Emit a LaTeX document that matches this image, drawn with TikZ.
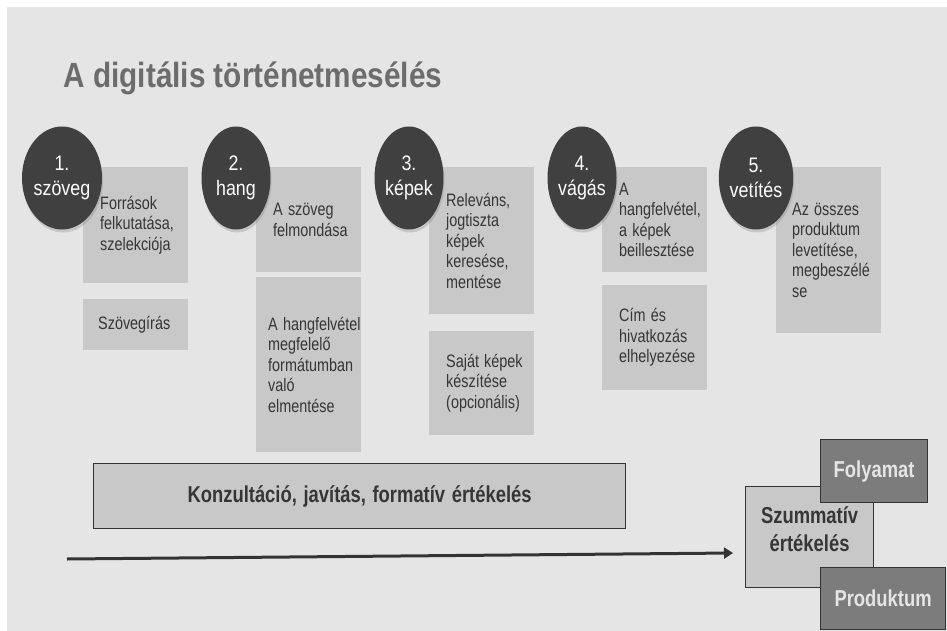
\documentclass[tikz,border=0pt]{standalone}
\usepackage{fontspec}
\setmainfont{Liberation Sans}
\newfontfamily\narrowsans[FakeStretch=0.8,WordSpace=1.3]{Liberation Sans}
\newfontfamily\titlesans[FakeStretch=0.85]{Liberation Sans}
\usetikzlibrary{shapes.geometric,arrows.meta,shadows}

\definecolor{slidebg}{HTML}{E5E5E5}
\definecolor{taskgray}{HTML}{C8C8C8}
\definecolor{stepdark}{HTML}{404040}
\definecolor{titlegray}{HTML}{6C6C6C}
\definecolor{textdark}{HTML}{363636}
\definecolor{evaldark}{HTML}{7C7C7C}
\definecolor{edgedark}{HTML}{333333}

\tikzset{
	stepcircle/.style={ellipse, fill=stepdark, minimum width=69pt, minimum height=103pt, inner sep=0pt,
		text=white, align=center, font=\titlesans\fontsize{21}{25}\selectfont,
		drop shadow={opacity=0.3, shadow xshift=1pt, shadow yshift=-3pt}},
	taskbox/.style={rectangle, fill=taskgray, anchor=north west, minimum width=105pt, text width=71pt,
		inner xsep=17pt, inner ysep=0pt, align=flush left, text=textdark,
		font={\narrowsans\fontsize{18}{20.5}\selectfont\hyphenpenalty=10000\relax}},
	evalbox/.style={rectangle, draw=edgedark, line width=1.2pt, fill=taskgray, anchor=north west,
		inner sep=0pt, align=center, text=textdark, font=\narrowsans\bfseries\fontsize{23}{28}\selectfont},
	partbox/.style={evalbox, fill=evaldark, text=slidebg},
	timeline/.style={draw=edgedark, line width=3pt, -{Triangle[length=9pt,width=11pt]}}
}

\begin{document}
\begin{tikzpicture}[x=1pt,y=-1pt]
	\useasboundingbox (0,0) rectangle (947,631);
	\fill[slidebg] (7,7) rectangle (947,631);

	\node[anchor=base west, text=titlegray, font=\titlesans\bfseries\fontsize{35}{40}\selectfont] (title) at (60,88) {A digitális történetmesélés};

	% feladatok
	\node[taskbox, minimum height=116pt] (t1a) at (83,167) {Források\\ felkutatása,\\ szelekciója};
	\node[taskbox, minimum height=51pt, inner xsep=15pt, text width=75pt] (t1b) at (83,299) {Szövegírás};
	\node[taskbox, minimum height=105pt] (t2a) at (256,167) {A szöveg\\ felmondása};
	\node[taskbox, minimum height=175pt, inner xsep=12pt, text width=81pt] (t2b) at (256,277) {\mbox{A hangfelvétel}\\ megfelelő\\ formátumban\\ való\\ elmentése};
	\node[taskbox, minimum height=147pt] (t3a) at (429,167) {Releváns,\\ jogtiszta\\ képek\\ keresése,\\ mentése};
	\node[taskbox, minimum height=104pt] (t3b) at (429,331) {\mbox{Saját képek}\\ készítése\\ (opcionális)};
	\node[taskbox, minimum height=105pt] (t4a) at (602,167) {A\\ hangfelvétel,\\ a képek\\ beillesztése};
	\node[taskbox, minimum height=105pt] (t4b) at (602,285) {Cím és\\ hivatkozás\\ elhelyezése};
	\node[taskbox, minimum height=166pt, inner xsep=16pt, text width=73pt] (t5a) at (776,167) {Az összes\\ produktum\\ levetítése,\\ megbeszélé\\ se};

	% lepesek
	\foreach \i/\cx/\lab in {1/62/szöveg, 2/236/hang, 3/409/képek, 4/582/vágás, 5/756/vetítés}
		\node[stepcircle] (c\i) at (\cx,178) {\i.\\\lab};

	\node[evalbox, minimum width=532pt, minimum height=65pt] (konz) at (93,463) {Konzultáció, javítás, formatív értékelés};

	\coordinate (tstart) at (67,559);
	\coordinate (tend) at (733,553);
	\draw[timeline] (tstart) -- (tend);

	\node[evalbox, minimum width=128pt, minimum height=101pt, text depth=17pt] (szum) at (745,486) {Szummatív\\ értékelés};
	\node[partbox, minimum width=107pt, minimum height=63pt] (foly) at (820,439) {Folyamat};
	\node[partbox, minimum width=125pt, minimum height=62pt] (prod) at (820,567) {Produktum};
\end{tikzpicture}
\end{document}
